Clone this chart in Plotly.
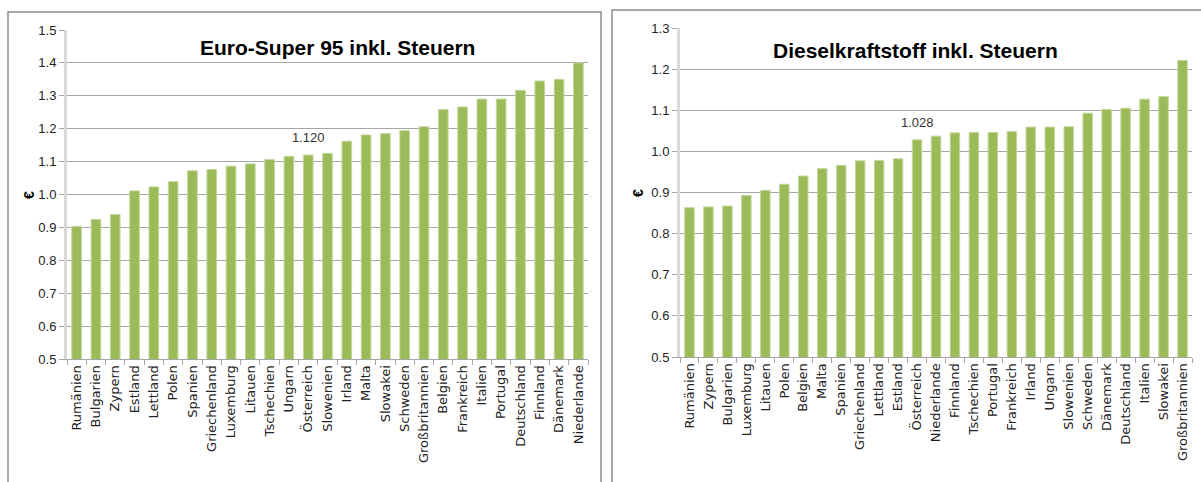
import plotly.graph_objects as go

# Euro-Super 95
super_countries = ["Rumänien", "Bulgarien", "Zypern", "Estland", "Lettland", "Polen", "Spanien",
                   "Griechenland", "Luxemburg", "Litauen", "Tschechien", "Ungarn", "Österreich",
                   "Slowenien", "Irland", "Malta", "Slowakei", "Schweden", "Großbritannien",
                   "Belgien", "Frankreich", "Italien", "Portugal", "Deutschland", "Finnland",
                   "Dänemark", "Niederlande"]
super_prices = [0.903, 0.924, 0.939, 1.011, 1.023, 1.039, 1.072, 1.076, 1.086, 1.093, 1.106,
                1.116, 1.120, 1.125, 1.162, 1.181, 1.185, 1.194, 1.206, 1.258, 1.266, 1.290,
                1.290, 1.317, 1.345, 1.350, 1.400]

# Diesel
diesel_countries = ["Rumänien", "Zypern", "Bulgarien", "Luxemburg", "Litauen", "Polen", "Belgien",
                    "Malta", "Spanien", "Griechenland", "Lettland", "Estland", "Österreich",
                    "Niederlande", "Finnland", "Tschechien", "Portugal", "Frankreich", "Irland",
                    "Ungarn", "Slowenien", "Schweden", "Dänemark", "Deutschland", "Italien",
                    "Slowakei", "Großbritannien"]
diesel_prices = [0.863, 0.865, 0.867, 0.893, 0.905, 0.920, 0.940, 0.958, 0.966, 0.977, 0.978,
                 0.982, 1.028, 1.037, 1.045, 1.046, 1.046, 1.048, 1.059, 1.059, 1.060, 1.093,
                 1.102, 1.105, 1.127, 1.133, 1.221]

super_ticks = [0.5, 0.6, 0.7, 0.8, 0.9, 1.0, 1.1, 1.2, 1.3, 1.4, 1.5]
diesel_ticks = [0.5, 0.6, 0.7, 0.8, 0.9, 1.0, 1.1, 1.2, 1.3]

highlight = "Österreich"
BAR = "#9bbb59"
W, H = 1201, 482

fig = go.Figure()
fig.add_trace(go.Bar(x=super_countries, y=super_prices, xaxis="x", yaxis="y",
                     marker=dict(color=BAR, line=dict(color="#c3d69b", width=1)),
                     width=0.5, showlegend=False, hoverinfo="x+y"))
fig.add_trace(go.Bar(x=diesel_countries, y=diesel_prices, xaxis="x2", yaxis="y2",
                     marker=dict(color=BAR, line=dict(color="#c3d69b", width=1)),
                     width=0.5, showlegend=False, hoverinfo="x+y"))

NARROW = "Liberation Sans Narrow, Liberation Sans, Arial, sans-serif"
tickfont_y = dict(family=NARROW, size=13, color="#222")
tickfont_x = dict(family="DejaVu Sans, sans-serif", size=13, color="#222")

def yax(domain, ticks, anchor):
    return dict(domain=domain, range=[ticks[0], ticks[-1]], tickvals=ticks,
                ticktext=[f"{t:.1f}" for t in ticks], tickfont=tickfont_y,
                showgrid=True, gridcolor="#a6a6a6", gridwidth=1, zeroline=False,
                showline=True, linecolor="#d9d9d9", linewidth=3, ticks="outside",
                ticklen=5, tickcolor="#a6a6a6", anchor=anchor, fixedrange=True,
                automargin=False)

def xax(domain, anchor):
    return dict(domain=domain, tickangle=-90, tickfont=tickfont_x, showline=True,
                linecolor="#a6a6a6", linewidth=1, ticks="outside", tickson="boundaries",
                ticklen=5, tickcolor="#a6a6a6", anchor=anchor, fixedrange=True,
                automargin=False)

fig.update_layout(
    width=W, height=H, margin=dict(l=0, r=0, t=0, b=0, autoexpand=False),
    paper_bgcolor="white", plot_bgcolor="white", bargap=0.5,
    xaxis=xax([67 / W, 588 / W], "y"),
    yaxis=yax([1 - 359 / H, 1 - 30 / H], super_ticks, "x"),
    xaxis2=xax([680 / W, 1192 / W], "y2"),
    yaxis2=yax([1 - 357 / H, 1 - 28 / H], diesel_ticks, "x2"),
)

ann_font = dict(family=NARROW, size=13, color="#333")
i1 = super_countries.index(highlight)
i2 = diesel_countries.index(highlight)
fig.add_annotation(x=highlight, y=super_prices[i1], xref="x", yref="y",
                   text=f"{super_prices[i1]:.3f}", showarrow=False, xanchor="center",
                   yanchor="bottom", yshift=8, font=ann_font)
fig.add_annotation(x=highlight, y=diesel_prices[i2], xref="x2", yref="y2",
                   text=f"{diesel_prices[i2]:.3f}", showarrow=False, xanchor="center",
                   yanchor="bottom", yshift=8, font=ann_font)

title_font = dict(family=NARROW, size=21, color="black")
fig.add_annotation(x=337 / W, y=1 - 48 / H, xref="paper", yref="paper",
                   text="<b>Euro-Super 95 inkl. Steuern</b>", showarrow=False,
                   xanchor="center", yanchor="middle", font=title_font)
fig.add_annotation(x=915 / W, y=1 - 51 / H, xref="paper", yref="paper",
                   text="<b>Dieselkraftstoff inkl. Steuern</b>", showarrow=False,
                   xanchor="center", yanchor="middle", font=title_font)

euro_font = dict(family="Liberation Sans, sans-serif", size=14, color="black")
fig.add_annotation(x=29 / W, y=1 - 195 / H, xref="paper", yref="paper", text="<b>€</b>",
                   showarrow=False, textangle=-90, xanchor="center", yanchor="middle", font=euro_font)
fig.add_annotation(x=638 / W, y=1 - 193 / H, xref="paper", yref="paper", text="<b>€</b>",
                   showarrow=False, textangle=-90, xanchor="center", yanchor="middle", font=euro_font)

# panel frames
fig.add_shape(type="rect", xref="paper", yref="paper", x0=8 / W, x1=601 / W, y0=-0.05, y1=1 - 12 / H,
              line=dict(color="#8c8c8c", width=1.5))
fig.add_shape(type="rect", xref="paper", yref="paper", x0=612 / W, x1=1.05, y0=-0.05, y1=1 - 10 / H,
              line=dict(color="#8c8c8c", width=1.5))

fig.write_html("out.html", config={"displayModeBar": False},
               post_script="document.body.style.margin='0';document.body.style.overflow='hidden';")
